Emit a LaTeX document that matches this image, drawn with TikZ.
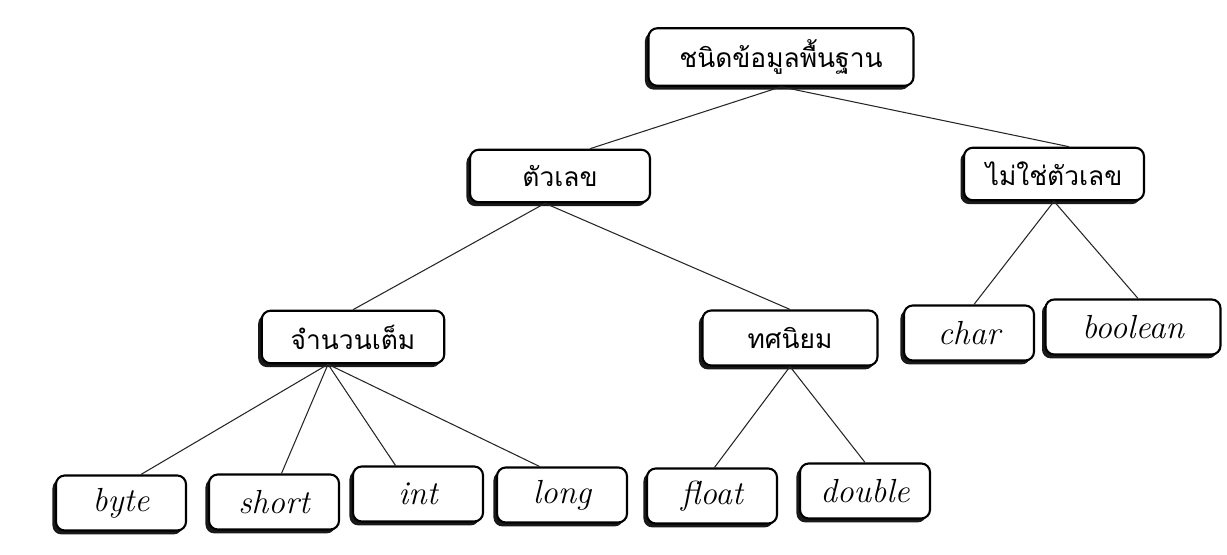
\documentclass[tikz,border=0pt]{standalone}
\usepackage{fontspec}
\newfontfamily\thaifont[Script=Thai]{Loma}
\usepackage{tikz}
\usetikzlibrary{shadows,positioning}

\tikzset{
    box/.style={rectangle, draw, line width=1.2pt, fill=white, rounded corners=5pt,
        drop shadow={shadow xshift=-2pt, shadow yshift=-2.2pt, fill=black, opacity=0.9},
        minimum height=1.05cm},
    thbox/.style={box, font=\thaifont\fontsize{15}{18}\selectfont},
    enbox/.style={box, font=\itshape\fontsize{19}{22}\selectfont, minimum width=2.6cm, minimum height=1.1cm},
    link/.style={draw, line width=0.6pt, black!85}
}

\begin{document}
\begin{tikzpicture}
    \useasboundingbox (0,0) rectangle (24.54,11.08);
    % Nodes
    \node (root) [thbox, minimum width=5.3cm, minimum height=1.15cm] at (15.62,9.94) {ชนิดข้อมูลพื้นฐาน};

    \node (num) [thbox, minimum width=3.6cm] at (11.2,7.56) {ตัวเลข};
    \node (nonnum) [thbox, minimum width=3.6cm] at (21.08,7.6) {ไม่ใช่ตัวเลข};

    \node (integer) [thbox, minimum width=3.65cm] at (7.06,4.34) {จำนวนเต็ม};
    \node (decimal) [thbox, minimum width=3.5cm, minimum height=1.1cm] at (15.8,4.32) {ทศนิยม};

    % Leaves
    \node (char) [enbox] at (19.38,4.42) {char};
    \node (boolean) [enbox, minimum width=3.5cm] at (22.66,4.54) {boolean};

    \node (byte) [enbox] at (2.42,1.02) {byte};
    \node (short) [enbox] at (5.48,1.04) {short};
    \node (int) [enbox] at (8.36,1.2) {int};
    \node (long) [enbox] at (11.24,1.18) {long};
    \node (float) [enbox] at (14.24,1.16) {float};
    \node (double) [enbox] at (17.3,1.26) {double};

    % Lines
    \draw [link] (root.south) -- ([xshift=0.6cm]num.north);
    \draw [link] (root.south) -- ([xshift=0.3cm]nonnum.north);
    \draw [link] ([xshift=-0.3cm]num.south) -- (integer.north);
    \draw [link] ([xshift=-0.3cm]num.south) -- (decimal.north);
    \draw [link] (nonnum.south) -- ([xshift=0.1cm]char.north);
    \draw [link] (nonnum.south) -- ([xshift=0.1cm]boolean.north);
    \draw [link] ([xshift=-0.5cm]integer.south) -- ([xshift=0.4cm]byte.north);
    \draw [link] ([xshift=-0.5cm]integer.south) -- ([xshift=0.15cm]short.north);
    \draw [link] ([xshift=-0.5cm]integer.south) -- ([xshift=-0.45cm]int.north);
    \draw [link] ([xshift=-0.5cm]integer.south) -- ([xshift=-0.45cm]long.north);
    \draw [link] (decimal.south) -- ([xshift=0.05cm]float.north);
    \draw [link] (decimal.south) -- (double.north);
\end{tikzpicture}
\end{document}
